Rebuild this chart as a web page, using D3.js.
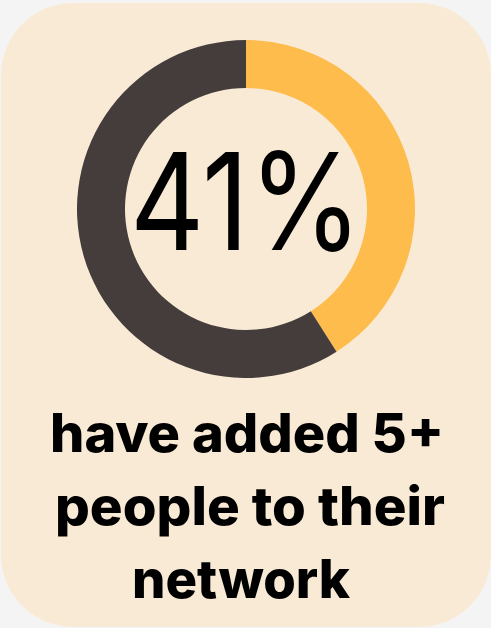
<!DOCTYPE html>
<html>
<head>
<meta charset="utf-8">
<script src="https://cdn.jsdelivr.net/npm/d3@7"></script>
<style>
  html, body { margin: 0; padding: 0; background: #f5f4f5; }
  svg { display: block; }
</style>
</head>
<body>
<svg id="chart"></svg>
<script>
// Share of people vs. the rest
const labels = ["Added 5+", "Others"];
const values = [41, 59];
const colors = ["#fdbc4b", "#453d3b"];
const bigLabel = "41%";
const captionLines = ["have added 5+", "people to their", "network"];

const W = 491, H = 628;

const svg = d3.select("#chart")
    .attr("width", W)
    .attr("height", H);

// Card background
svg.append("rect")
    .attr("x", 1)
    .attr("y", 3)
    .attr("width", W - 1)
    .attr("height", H - 4)
    .attr("rx", 72)
    .attr("ry", 72)
    .attr("fill", "#f9ead6");

// Donut
const cx = 246, cy = 209;
const outerR = 169, innerR = 121;

const pie = d3.pie()
    .sort(null)
    .value(d => d);

const arc = d3.arc()
    .innerRadius(innerR)
    .outerRadius(outerR);

const g = svg.append("g")
    .attr("transform", `translate(${cx},${cy})`);

g.selectAll("path")
    .data(pie(values))
    .enter().append("path")
    .attr("d", arc)
    .attr("fill", (d, i) => colors[i]);

// Big percentage in the middle
g.append("text")
    .attr("x", 0)
    .attr("y", 41)
    .attr("text-anchor", "middle")
    .attr("textLength", 232)
    .attr("lengthAdjust", "spacingAndGlyphs")
    .style("font-family", "Inter, 'Noto Sans', sans-serif")
    .style("font-weight", 400)
    .style("font-size", "135px")
    .style("fill", "#000")
    .text(bigLabel);

// Caption below
const lineX = [247, 250, 241];
const lineY = [452, 525, 598];
const lineW = [394, 390, 218];

svg.selectAll(".caption")
    .data(captionLines)
    .enter().append("text")
    .attr("class", "caption")
    .attr("x", (d, i) => lineX[i])
    .attr("y", (d, i) => lineY[i])
    .attr("text-anchor", "middle")
    .attr("textLength", (d, i) => lineW[i])
    .attr("lengthAdjust", "spacingAndGlyphs")
    .style("font-family", "Inter, 'Noto Sans', sans-serif")
    .style("font-weight", 800)
    .style("font-size", "53px")
    .style("fill", "#000")
    .text(d => d);
</script>
</body>
</html>
